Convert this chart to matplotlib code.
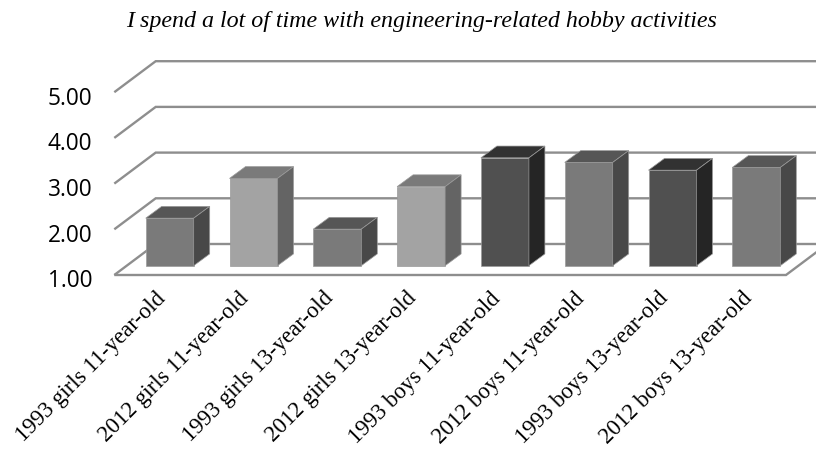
import matplotlib
matplotlib.use("Agg")
import matplotlib.pyplot as plt
from matplotlib.patches import Polygon
from matplotlib.transforms import ScaledTranslation

categories = ["1993 girls 11-year-old", "2012 girls 11-year-old",
              "1993 girls 13-year-old", "2012 girls 13-year-old",
              "1993 boys 11-year-old", "2012 boys 11-year-old",
              "1993 boys 13-year-old", "2012 boys 13-year-old"]
values = [2.04, 2.91, 1.80, 2.73, 3.36, 3.26, 3.09, 3.15]
y_ticks = [1, 2, 3, 4, 5]
title = "I spend a lot of time with engineering-related hobby activities"

W, H = 816, 452
# (front, top, side) shades per bar
shades = {"mid": ("#7a7a7a", "#565656", "#484848"),
          "light": ("#a3a3a3", "#7a7a7a", "#646464"),
          "dark": ("#505050", "#323232", "#252525")}
bar_shade = ["mid", "light", "mid", "light", "dark", "mid", "dark", "mid"]

fig = plt.figure(figsize=(W / 100, H / 100), dpi=100)
L, R, B, T = 114.3, 786.0, 276.0, 50.0
ax = fig.add_axes([L / W, 1 - B / H, (R - L) / W, (B - T) / H])
px_x, px_y = 83.8, 45.7
x0 = (L - 169.7) / px_x
ax.set_xlim(x0, x0 + (R - L) / px_x)
ax.set_ylim(1, 1 + (B - T) / px_y)
ax.patch.set_alpha(0)
for s in ax.spines.values():
    s.set_visible(False)

# depth of the floor and of the bars, in data units
fx, fy = 41.4 / px_x, 31.0 / px_y
bx, by = 16.0 / px_x, 11.8 / px_y
base = 1 + 9.3 / px_y
bw = 48.0 / px_x
xl, xr = ax.get_xlim()
line = dict(color="#8e8e8e", lw=1.7, clip_on=False, solid_capstyle="butt",
            solid_joinstyle="miter", zorder=1)
for v in y_ticks:
    ax.plot([xl, xl + fx, xr + fx], [v, v + fy, v + fy], **line)
ax.plot([xl, xr, xr + fx], [1, 1, 1 + fy], **line)

for i, v in enumerate(values):
    front, top, side = shades[bar_shade[i]]
    h = v - 1
    edge = "#9a9a9a"
    ax.bar(i, h, bw, bottom=base, color=front, edgecolor=edge, lw=0.5, zorder=3, clip_on=False)
    a, b = i - bw / 2, i + bw / 2
    y1 = base + h
    ax.add_patch(Polygon([(a, y1), (b, y1), (b + bx, y1 + by), (a + bx, y1 + by)],
                         closed=True, fc=top, ec=edge, lw=0.5, zorder=3, clip_on=False))
    ax.add_patch(Polygon([(b, base), (b, y1), (b + bx, y1 + by), (b + bx, base + by)],
                         closed=True, fc=side, ec=edge, lw=0.5, zorder=3, clip_on=False))

ax.set_yticks(y_ticks)
ax.set_yticklabels([f"{v:.2f}" for v in y_ticks], family="Open Sans", fontsize=16.3, color="black")
ax.set_xticks(range(len(categories)))
ax.set_xticklabels(categories, rotation=45, ha="right", rotation_mode="anchor",
                   family="Liberation Serif", fontsize=16.4, color="black")
ax.tick_params(axis="both", length=0)
ax.tick_params(axis="x", pad=10)
ax.tick_params(axis="y", pad=16)
shift = ScaledTranslation(-15 / 100, 2 / 100, fig.dpi_scale_trans)
for t in ax.get_xticklabels():
    t.set_transform(t.get_transform() + shift)
shift_y = ScaledTranslation(0, -2.5 / 100, fig.dpi_scale_trans)
for t in ax.get_yticklabels():
    t.set_transform(t.get_transform() + shift_y)

fig.text(421.5 / W, 1 - 27 / H, title, family="Liberation Serif", style="italic",
         fontsize=17.3, ha="center", va="baseline", color="black")
fig.savefig("out.png", dpi=100)
